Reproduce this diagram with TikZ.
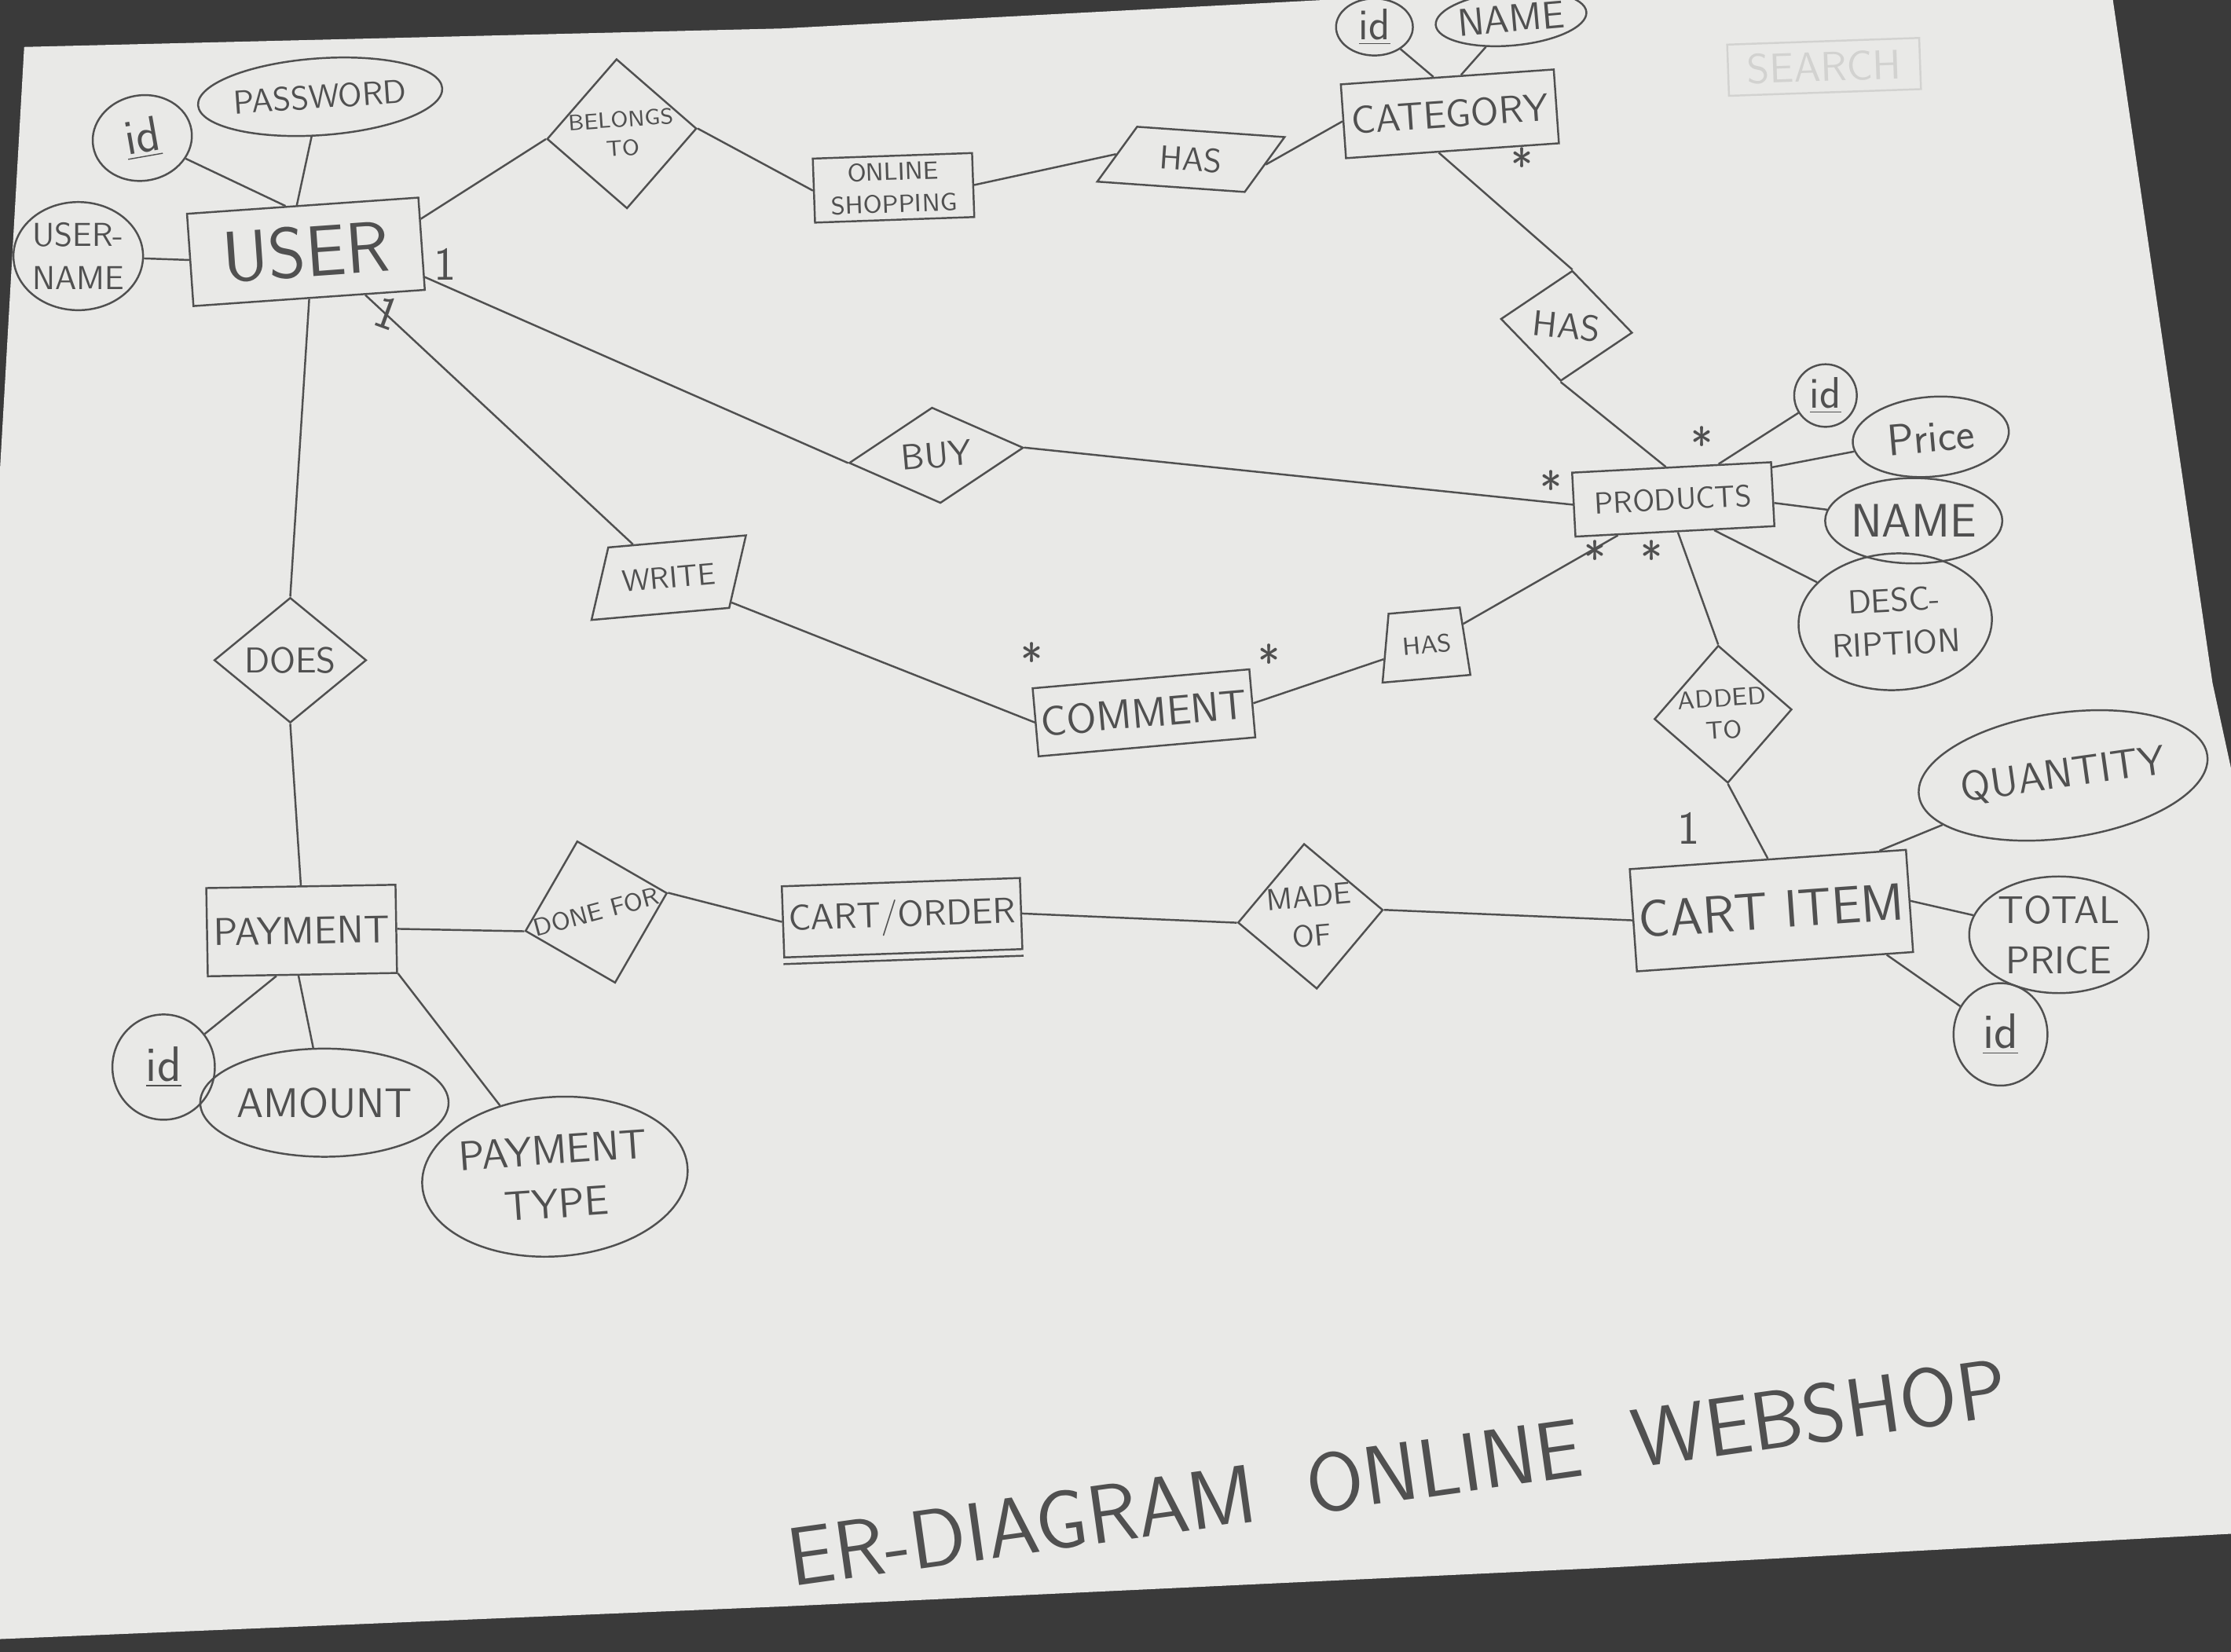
\documentclass[tikz,border=0pt]{standalone}
\usepackage{tikz}
\usetikzlibrary{shapes.geometric}

\newcommand{\pxu}{0.01811cm}
\newcommand{\fsz}[1]{\fontsize{#1}{\fpeval{1.3*#1}}\selectfont}
\definecolor{pencil}{HTML}{505050}
\definecolor{paper}{HTML}{E9E9E7}
\definecolor{desk}{HTML}{3A3A3A}
\definecolor{faint}{HTML}{D2D2D0}

\begin{document}
\begin{tikzpicture}[
    x=\pxu, y=-\pxu,
    every node/.style={text=pencil, font=\sffamily},
    entity/.style={draw=pencil, rectangle, inner sep=2pt, align=center, font=\sffamily\fsz{#1}},
    entity/.default=15,
    attr/.style={draw=pencil, ellipse, inner sep=0pt, align=center, font=\sffamily\fsz{#1}},
    attr/.default=13,
    rel/.style={draw=pencil, diamond, inner sep=0pt, align=center, font=\sffamily\fsz{#1}},
    rel/.default=11,
    slantrel/.style={draw=pencil, trapezium, align=center, font=\sffamily\fsz{#1}},
    card/.style={font=\sffamily\fsz{17}},
    line width=0.7pt, pencil
  ]
  \useasboundingbox (0,0) rectangle (1568,1161);
  % Desk and sheet
  \fill[desk] (0,0) rectangle (1568,1161);
  \fill[paper] (0,330) -- (17,33) -- (550,20) -- (930,0) -- (1485,0) -- (1555,480)
    -- (1568,540) -- (1568,1078) -- (1126,1102) -- (552,1129) -- (0,1152) -- cycle;

  % Erased sketch
  \node[draw=faint, text=faint, minimum width=135*\pxu, minimum height=36*\pxu,
    font=\sffamily\fsz{15}, rotate=2] (search) at (1282,47) {SEARCH};

  % Entities
  \node[entity=26, minimum width=163*\pxu, minimum height=65*\pxu, rotate=4] (user) at (215,177) {USER};
  \node[entity=9, minimum width=112*\pxu, minimum height=45*\pxu, rotate=2] (online) at (628,132) {ONLINE\\SHOPPING};
  \node[entity=14, minimum width=150*\pxu, minimum height=52*\pxu, rotate=4] (category) at (1019,80) {CATEGORY};
  \node[entity=11, minimum width=140*\pxu, minimum height=45*\pxu, rotate=3] (products) at (1176,351) {PRODUCTS};
  \node[entity=15, minimum width=145*\pxu, minimum height=48*\pxu, rotate=5] (comment) at (804,501) {COMMENT};
  \node[entity=19, minimum width=175*\pxu, minimum height=72*\pxu, rotate=4] (cartitem) at (1245,640) {CART ITEM};
  \node[entity=13, minimum width=155*\pxu, minimum height=50*\pxu, rotate=2] (cartorder) at (634,645) {CART/ORDER};
  \draw[rotate around={2:(cartorder.center)}] ([yshift=-4*\pxu]cartorder.south west) -- ([yshift=-4*\pxu]cartorder.south east);
  \node[entity=14, minimum width=133*\pxu, minimum height=62*\pxu, rotate=1] (payment) at (212,654) {PAYMENT};

  % Relationships
  \node[rel=8, minimum width=88*\pxu, minimum height=74*\pxu, rotate=4] (belongs) at (437,94) {BELONGS\\TO};
  \node[slantrel=12, trapezium left angle=58, trapezium right angle=122, inner xsep=9pt, inner ysep=6pt, rotate=-4] (hastop) at (837,112) {HAS};
  \node[rel=13, minimum width=93*\pxu, minimum height=78*\pxu, rotate=-6] (hasright) at (1101,229) {HAS};
  \node[rel=13, minimum width=123*\pxu, minimum height=62*\pxu, rotate=5] (buy) at (658,320) {BUY};
  \node[slantrel=11, trapezium left angle=72, trapezium right angle=108, inner xsep=4pt, inner ysep=9pt, rotate=5] (write) at (470,406) {WRITE};
  \node[slantrel=9, trapezium left angle=80, trapezium right angle=86, inner xsep=4pt, inner ysep=9pt, rotate=5] (hassmall) at (1003,453) {HAS};
  \node[rel=13, minimum width=107*\pxu, minimum height=88*\pxu] (does) at (204,464) {DOES};
  \node[rel=9, minimum width=90*\pxu, minimum height=74*\pxu, rotate=4] (added) at (1211,502) {ADDED\\TO};
  \node[rel=11, minimum width=100*\pxu, minimum height=82*\pxu, rotate=5] (madeof) at (921,644) {MADE\\OF};
  \node[rel=9, minimum width=102*\pxu, minimum height=72*\pxu, rotate=15] (donefor) at (419,641) {DONE FOR};

  % Attributes
  \node[attr=18, minimum width=70*\pxu, minimum height=60*\pxu, rotate=10] (uid) at (100,97) {\underline{id}};
  \node[attr=12, minimum width=130*\pxu, minimum height=54*\pxu, rotate=4] (upass) at (225,68) {PASSWORD};
  \node[attr=12, minimum width=86*\pxu, minimum height=76*\pxu] (uname) at (55,180) {USER-\\NAME};
  \node[attr=16, minimum width=54*\pxu, minimum height=40*\pxu] (cid) at (966,19) {\underline{id}};
  \node[attr=14, minimum width=90*\pxu, minimum height=38*\pxu, rotate=5] (cname) at (1062,13) {NAME};
  \node[attr=16, minimum width=44*\pxu, minimum height=44*\pxu] (pid) at (1283,278) {\underline{id}};
  \node[attr=16, minimum width=110*\pxu, minimum height=56*\pxu, rotate=5] (pprice) at (1357,307) {Price};
  \node[attr=17, minimum width=110*\pxu, minimum height=60*\pxu] (pname) at (1345,366) {NAME};
  \node[attr=12, minimum width=136*\pxu, minimum height=96*\pxu, rotate=3] (pdesc) at (1332,437) {DESC-\\RIPTION};
  \node[attr=15, minimum width=155*\pxu, minimum height=88*\pxu, rotate=8] (qty) at (1450,545) {QUANTITY};
  \node[attr=14, minimum width=126*\pxu, minimum height=82*\pxu] (total) at (1447,657) {TOTAL\\PRICE};
  \node[attr=18, minimum width=66*\pxu, minimum height=72*\pxu] (ciid) at (1406,727) {\underline{id}};
  \node[attr=18, minimum width=72*\pxu, minimum height=74*\pxu] (payid) at (115,750) {\underline{id}};
  \node[attr=15, minimum width=156*\pxu, minimum height=76*\pxu] (amount) at (228,775) {AMOUNT};
  \node[attr=15, minimum width=164*\pxu, minimum height=112*\pxu, rotate=4] (ptype) at (390,827) {PAYMENT\\TYPE};

  % Cardinalities
  \node[card] (c1) at (313,186) {1};
  \node[card, rotate=-20] (c2) at (272,220) {1};
  \node[card] (c3) at (1070,116) {*};
  \node[card] (c4) at (1196,312) {*};
  \node[card] (c5) at (1090,343) {*};
  \node[card] (c6) at (1121,392) {*};
  \node[card] (c7) at (1161,392) {*};
  \node[card] (c8) at (725,464) {*};
  \node[card] (c9) at (892,465) {*};
  \node[card] (c10) at (1187,582) {1};

  % Connections
  \draw (uid) -- (user.110);
  \draw (upass) -- (user.97);
  \draw (uname) -- (user.west);
  \draw (user.12) -- (belongs.west);
  \draw (belongs.east) -- (online.west);
  \draw (online.east) -- (hastop.west);
  \draw (hastop.east) -- (category.west);
  \draw (cid) -- (category.110);
  \draw (cname) -- (category.70);
  \draw (category.-110) -- (hasright.north);
  \draw (hasright.south) -- (products.100);
  \draw (products.35) -- (pid);
  \draw (products.15) -- (pprice);
  \draw (products.-5) -- (pname);
  \draw (products.-40) -- (pdesc);
  \draw (user.-16) -- (buy.west);
  \draw (buy.east) -- (products.west);
  \draw (user.-40) -- (write);
  \draw (write) -- (comment.west);
  \draw (comment.east) -- (hassmall);
  \draw (hassmall) -- (products.-150);
  \draw (products.-85) -- (added.north);
  \draw (added.south) -- (cartitem.90);
  \draw (cartitem.25) -- (qty);
  \draw (cartitem.east) -- (total);
  \draw (cartitem.-25) -- (ciid);
  \draw (cartorder.east) -- (madeof.west);
  \draw (madeof.east) -- (cartitem.west);
  \draw (payment.east) -- (donefor.west);
  \draw (donefor.east) -- (cartorder.west);
  \draw (user.south) -- (does.north);
  \draw (does.south) -- (payment.north);
  \draw (payment.-120) -- (payid);
  \draw (payment.-95) -- (amount);
  \draw (payment.-25) -- (ptype);

  % Title
  \node[rotate=8, font=\sffamily\fsz{30}] (title) at (982,1035) {ER-DIAGRAM\ \ ONLINE\ \ WEBSHOP};
\end{tikzpicture}
\end{document}
